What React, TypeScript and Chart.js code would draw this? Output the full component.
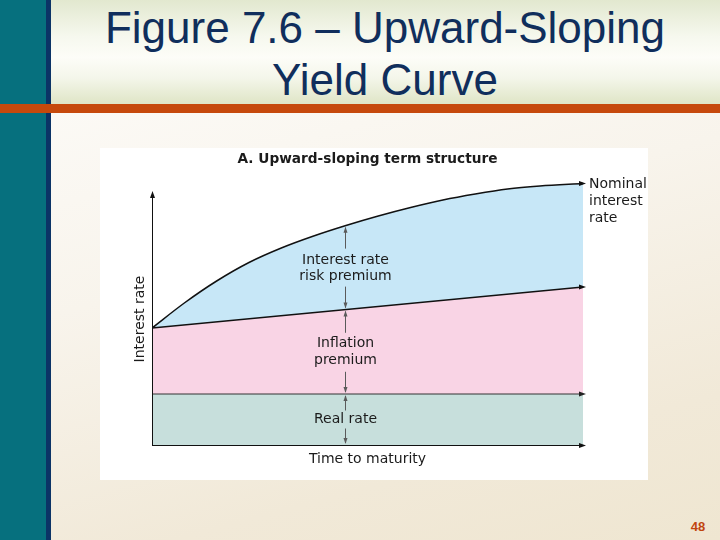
import React, { useEffect, useRef } from "react";
import { Chart, registerables } from "chart.js";

Chart.register(...registerables);

// ---- data ----
const maturity = [0, 7.5, 15, 22.5, 30, 37.5, 45, 52.5, 60, 67.5, 75, 82.5, 90, 100];
const nominalRate = [23.4, 28.4, 32.8, 36.5, 39.4, 41.8, 43.9, 45.8, 47.5, 49.0, 50.2, 51.2, 51.8, 52.3];
const inflationMaturity = [0, 100];
const inflationTop = [23.4, 31.6];
const realMaturity = [0, 100];
const realRate = [10.2, 10.2];
const axisTop = 50.4;
const labelMaturity = 44.8;

const chartTitle = "A. Upward-sloping term structure";
const yAxisLabel = "Interest rate";
const xAxisLabel = "Time to maturity";
const nominalLabel = ["Nominal", "interest", "rate"];
const riskLabel = ["Interest rate", "risk premium"];
const inflationLabel = ["Inflation", "premium"];
const realLabel = ["Real rate"];

const LABEL_FONT = "14px 'DejaVu Sans'";
const TEXT_COLOR = "#1b1b1b";

function arrowHead(ctx: CanvasRenderingContext2D, x: number, y: number, dir: "up" | "down" | "right", len: number, half: number, color: string) {
  ctx.save();
  ctx.fillStyle = color;
  ctx.beginPath();
  if (dir === "up") {
    ctx.moveTo(x, y);
    ctx.lineTo(x - half, y + len);
    ctx.lineTo(x + half, y + len);
  } else if (dir === "down") {
    ctx.moveTo(x, y);
    ctx.lineTo(x - half, y - len);
    ctx.lineTo(x + half, y - len);
  } else {
    ctx.moveTo(x, y);
    ctx.lineTo(x - len, y - half);
    ctx.lineTo(x - len, y + half);
  }
  ctx.closePath();
  ctx.fill();
  ctx.restore();
}

function lineAt(chart: any, idx: number, px: number): number {
  const meta = chart.getDatasetMeta(idx);
  const p = meta.dataset.interpolate({ x: px }, "x");
  return p ? p.y : 0;
}

const overlayPlugin = {
  id: "overlay",
  afterDatasetsDraw(chart: any) {
    const ctx: CanvasRenderingContext2D = chart.ctx;
    const xs = chart.scales.x;
    const ys = chart.scales.y;
    const x0 = xs.getPixelForValue(0);
    const x1 = xs.getPixelForValue(100);
    const y0 = ys.getPixelForValue(0);
    const yTop = ys.getPixelForValue(axisTop);

    ctx.save();
    // axes
    ctx.strokeStyle = "#111";
    ctx.lineWidth = 1;
    ctx.beginPath();
    ctx.moveTo(x0 + 0.5, y0);
    ctx.lineTo(x0 + 0.5, yTop + 4);
    ctx.stroke();
    arrowHead(ctx, x0 + 0.5, yTop - 2, "up", 7, 2.5, "#111");
    ctx.beginPath();
    ctx.moveTo(x0, y0 + 0.5);
    ctx.lineTo(x1, y0 + 0.5);
    ctx.stroke();
    arrowHead(ctx, x1 + 3, y0 + 0.5, "right", 7, 2.5, "#111");

    // arrow heads at line ends
    const yR = ys.getPixelForValue(realRate[realRate.length - 1]);
    const yI = ys.getPixelForValue(inflationTop[inflationTop.length - 1]);
    const yN = ys.getPixelForValue(nominalRate[nominalRate.length - 1]);
    arrowHead(ctx, x1 + 3, yR, "right", 7, 2.5, "#222");
    arrowHead(ctx, x1 + 3, yI, "right", 7, 2.5, "#111");
    arrowHead(ctx, x1 + 3, yN, "right", 7, 2.5, "#111");

    // vertical arrows
    const ax = Math.round(xs.getPixelForValue(labelMaturity)) + 0.5;
    const aN = lineAt(chart, 2, ax);
    const aI = lineAt(chart, 1, ax);
    const aR = ys.getPixelForValue(realRate[0]);
    const gray = "#5a5a5a";
    ctx.strokeStyle = gray;
    ctx.lineWidth = 1;
    const seg = (a: number, b: number) => {
      ctx.beginPath();
      ctx.moveTo(ax, a);
      ctx.lineTo(ax, b);
      ctx.stroke();
    };
    const m1 = (aN + aI) / 2;
    seg(aN + 2, m1 - 19);
    arrowHead(ctx, ax, aN + 1, "up", 6, 2, gray);
    seg(m1 + 19, aI - 2);
    arrowHead(ctx, ax, aI - 1, "down", 6, 2, gray);
    const m2 = (aI + aR) / 2;
    seg(aI + 2, m2 - 19);
    arrowHead(ctx, ax, aI + 1, "up", 6, 2, gray);
    seg(m2 + 20, aR - 2);
    arrowHead(ctx, ax, aR - 1, "down", 6, 2, gray);
    const m3 = (aR + y0) / 2;
    seg(aR + 2, m3 - 9);
    arrowHead(ctx, ax, aR + 1, "up", 6, 2, gray);
    seg(m3 + 9, y0 - 2);
    arrowHead(ctx, ax, y0 - 1, "down", 6, 2, gray);

    // texts
    ctx.fillStyle = TEXT_COLOR;
    ctx.textBaseline = "middle";
    ctx.textAlign = "center";
    ctx.font = LABEL_FONT;
    ctx.fillText(riskLabel[0], ax, m1 - 7);
    ctx.fillText(riskLabel[1], ax, m1 + 9);
    ctx.fillText(inflationLabel[0], ax, m2 - 8);
    ctx.fillText(inflationLabel[1], ax, m2 + 9);
    ctx.fillText(realLabel[0], ax, m3);
    ctx.fillText(xAxisLabel, ax + 22, y0 + 14);

    ctx.font = "bold 13.7px 'DejaVu Sans'";
    ctx.fillText(chartTitle, ax + 22, 11);

    ctx.font = LABEL_FONT;
    ctx.textAlign = "left";
    nominalLabel.forEach((t, i) => ctx.fillText(t, x1 + 6, yN + 1 + i * 17));

    // rotated y label
    ctx.save();
    ctx.translate(x0 - 12, ys.getPixelForValue(inflationTop[0]) - 9);
    ctx.rotate(-Math.PI / 2);
    ctx.textAlign = "center";
    ctx.fillText(yAxisLabel, 0, 0);
    ctx.restore();

    ctx.restore();
  },
};

export default function App() {
  const ref = useRef<HTMLCanvasElement>(null);

  useEffect(() => {
    if (!ref.current) return;
    const chart = new Chart(ref.current, {
      type: "line",
      data: {
        datasets: [
          {
            data: realMaturity.map((x, i) => ({ x, y: realRate[i] })),
            fill: "origin",
            backgroundColor: "#c7dfdc",
            borderColor: "#333",
            borderWidth: 1,
            pointRadius: 0,
            tension: 0,
          },
          {
            data: inflationMaturity.map((x, i) => ({ x, y: inflationTop[i] })),
            fill: "-1",
            backgroundColor: "#f9d4e5",
            borderColor: "#111",
            borderWidth: 1.5,
            pointRadius: 0,
            tension: 0,
          },
          {
            data: maturity.map((x, i) => ({ x, y: nominalRate[i] })),
            fill: "-1",
            backgroundColor: "#c7e7f7",
            borderColor: "#111",
            borderWidth: 1.5,
            pointRadius: 0,
            cubicInterpolationMode: "monotone",
          },
        ],
      } as any,
      options: {
        responsive: false,
        animation: false,
        events: [],
        layout: { padding: { left: 52, right: 65, top: 27, bottom: 35 } },
        scales: {
          x: { type: "linear", min: 0, max: 100, display: false },
          y: { type: "linear", min: 0, max: 54, display: false },
        },
        plugins: { legend: { display: false }, tooltip: { enabled: false } },
      } as any,
      plugins: [overlayPlugin],
    });
    return () => chart.destroy();
  }, []);

  return (
    <div
      style={{
        position: "fixed",
        left: 0,
        top: 0,
        width: 720,
        height: 540,
        overflow: "hidden",
        background: "linear-gradient(165deg, #fefdfb 0%, #f8f4ec 45%, #f1e9d8 80%, #efe6d1 100%)",
        fontFamily: "'Liberation Sans', Arial, sans-serif",
      }}
    >
      {/* title band */}
      <div
        style={{
          position: "absolute",
          left: 51,
          top: 0,
          width: 669,
          height: 104,
          background: "linear-gradient(to bottom, #e2e8cf 0%, #f6f8ee 35%, #fdfdf8 55%, #f4f6ea 75%, #dfe5c6 100%)",
        }}
      />
      <div
        style={{
          position: "absolute",
          left: 50,
          top: 1.7,
          width: 670,
          textAlign: "center",
          fontSize: 44,
          lineHeight: "52px",
          color: "#102e5c",
        }}
      >
        Figure 7.6 – Upward-Sloping
        <br />
        Yield Curve
      </div>
      {/* left bars */}
      <div style={{ position: "absolute", left: 0, top: 0, width: 46, height: 540, background: "#06707e" }} />
      <div style={{ position: "absolute", left: 46, top: 0, width: 5, height: 540, background: "#0b3366" }} />
      {/* orange rule */}
      <div style={{ position: "absolute", left: 0, top: 104, width: 720, height: 9, background: "#c6490c" }} />
      {/* figure box */}
      <div style={{ position: "absolute", left: 100, top: 148, width: 548, height: 332, background: "#ffffff" }}>
        <canvas ref={ref} width={548} height={332} style={{ width: 548, height: 332, display: "block" }} />
      </div>
      {/* page number */}
      <div
        style={{
          position: "absolute",
          left: 680,
          top: 519,
          width: 36,
          textAlign: "center",
          fontSize: 13,
          fontWeight: "bold",
          color: "#c1440e",
          lineHeight: "16px",
        }}
      >
        48
      </div>
    </div>
  );
}
